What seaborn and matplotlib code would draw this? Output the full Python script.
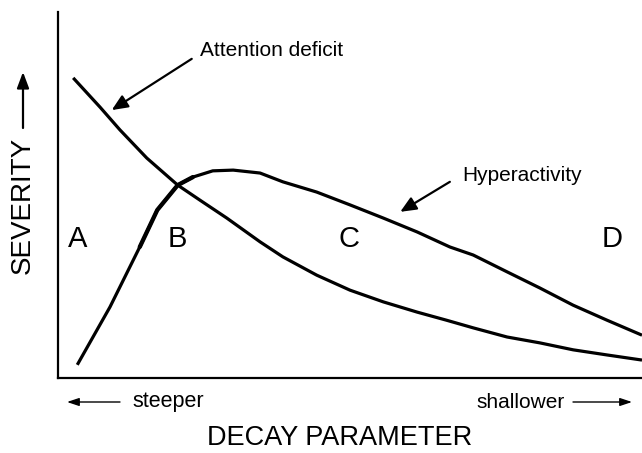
import matplotlib
matplotlib.use("Agg")
import matplotlib.pyplot as plt
import seaborn as sns
import pandas as pd

# Data (arbitrary units, x: decay parameter 0-100, y: severity 0-100)
attn_x = [2.6, 7.2, 10.6, 15.2, 20.5, 24.3, 28.9, 34.6, 38.5, 44.3, 50.0, 55.7, 61.5,
          66.5, 71.1, 76.9, 82.5, 88.2, 94.0, 100.0]
attn_y = [82.0, 74.0, 67.8, 60.1, 52.7, 48.6, 43.7, 37.2, 33.1, 28.1, 24.0, 20.8, 18.0,
          15.8, 13.7, 11.2, 9.6, 7.7, 6.3, 4.9]
hyp_x = [3.3, 8.9, 14.0, 17.0, 20.5, 23.1, 26.5, 30.0, 34.6, 38.5, 44.3, 50.0, 55.7,
         61.5, 67.1, 71.1, 76.9, 82.5, 88.2, 94.0, 100.0]
hyp_y = [3.6, 19.4, 35.8, 45.9, 52.7, 54.9, 56.6, 56.8, 56.0, 53.6, 50.8, 47.3, 43.7,
         39.9, 35.8, 33.6, 29.0, 24.6, 19.9, 15.8, 11.7]
region_labels = ["A", "B", "C", "D"]
region_x = [3.4, 20.5, 49.8, 94.9]
region_y = 38.0

sns.set_theme(style="white")
plt.rcParams['font.family'] = ['Liberation Sans', 'DejaVu Sans']
plt.rcParams['text.color'] = 'black'

W, H = 642, 453
fig = plt.figure(figsize=(W / 100, H / 100), dpi=100)
ax = fig.add_axes([58 / W, (H - 378) / H, 584 / W, 366 / H])

df_a = pd.DataFrame({"x": attn_x, "y": attn_y})
df_h = pd.DataFrame({"x": hyp_x, "y": hyp_y})
sns.lineplot(data=df_a, x="x", y="y", ax=ax, color="black", lw=2.3, sort=False,
             solid_joinstyle="round", solid_capstyle="butt")
sns.lineplot(data=df_h, x="x", y="y", ax=ax, color="black", lw=2.3, sort=False,
             solid_joinstyle="round", solid_capstyle="butt")
# emphasised rising part of hyperactivity near crossing
df_hs = df_h[(df_h.x >= 14) & (df_h.x <= 23.5)]
sns.lineplot(data=df_hs, x="x", y="y", ax=ax, color="black", lw=3.1, sort=False,
             solid_joinstyle="round", solid_capstyle="round")

ax.set_xlim(0, 100)
ax.set_ylim(0, 100)
ax.set_xticks([])
ax.set_yticks([])
ax.set_xlabel("")
ax.set_ylabel("")
for s in ["top", "right"]:
    ax.spines[s].set_visible(False)
for s in ["left", "bottom"]:
    ax.spines[s].set_color("black")
    ax.spines[s].set_linewidth(1.6)

for lab, xx in zip(region_labels, region_x):
    ax.text(xx, region_y, lab, ha="center", va="center", fontsize=21, color="black")

ap = dict(arrowstyle="-|>,head_length=0.8,head_width=0.35", color="black", lw=1.6,
          shrinkA=0, shrinkB=0)
ax.annotate("", xy=(9.2, 73.2), xytext=(22.9, 87.2), arrowprops=ap)
ax.text(24.3, 89.6, "Attention deficit", ha="left", va="center", fontsize=15, color="black")
ax.annotate("", xy=(58.6, 45.4), xytext=(67.1, 53.6), arrowprops=ap)
ax.text(69.2, 55.2, "Hyperactivity", ha="left", va="center", fontsize=15, color="black")

# texts outside axes (figure fraction)
def fx(px):
    return px / W

def fy(py):
    return 1 - py / H

ap2 = dict(arrowstyle="-|>,head_length=0.6,head_width=0.2", color="black", lw=1.0,
           shrinkA=0, shrinkB=0)
fig.text(fx(132), fy(402), "steeper", ha="left", va="center", fontsize=15.5, color="black")
ax.annotate("", xy=(fx(67), fy(402)), xytext=(fx(120), fy(402)),
            xycoords="figure fraction", textcoords="figure fraction", arrowprops=ap2)
fig.text(fx(476), fy(402), "shallower", ha="left", va="center", fontsize=15, color="black")
ax.annotate("", xy=(fx(632), fy(402)), xytext=(fx(573), fy(402)),
            xycoords="figure fraction", textcoords="figure fraction", arrowprops=ap2)
fig.text(fx(340), fy(438), "DECAY PARAMETER", ha="center", va="center", fontsize=19.5,
         color="black")

fig.text(fx(23), fy(205), "SEVERITY", ha="center", va="center", fontsize=20, rotation=90,
         color="black")
ap3 = dict(arrowstyle="-|>,head_length=0.8,head_width=0.3", color="black", lw=1.6,
           shrinkA=0, shrinkB=0)
ax.annotate("", xy=(fx(23), fy(72)), xytext=(fx(23), fy(128)),
            xycoords="figure fraction", textcoords="figure fraction", arrowprops=ap3)

fig.savefig("out.png", dpi=100, facecolor="white")
